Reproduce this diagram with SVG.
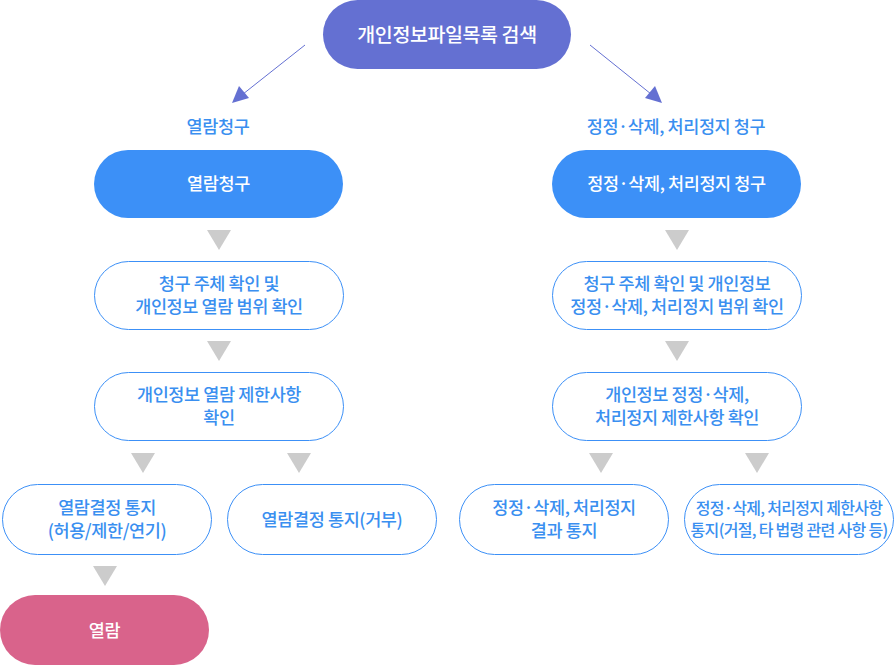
<svg xmlns="http://www.w3.org/2000/svg" width="895" height="665" viewBox="0 0 895 665">
<defs>
<style>
text{font-family:"Noto Sans CJK KR","Noto Sans",sans-serif;font-size:17.5px;text-anchor:middle;letter-spacing:-0.4px;font-weight:500}
.w{fill:#ffffff}
.b{fill:#3a8ff0}
.box{fill:#ffffff;stroke:#3c90f7;stroke-width:1}
.tri{fill:#cccccc}
</style>
</defs>
<rect width="895" height="665" fill="#ffffff"/>
<g id="connectors">
<line x1="305" y1="45" x2="238" y2="98" stroke="#6470d2" stroke-width="1"/>
<polygon points="232,103 239,86 249,98" fill="#6470d2"/>
<line x1="590" y1="45" x2="656" y2="98" stroke="#6470d2" stroke-width="1"/>
<polygon points="662,103 645,98 655,86" fill="#6470d2"/>
<polygon class="tri" points="207,230 231,230 219,250"/>
<polygon class="tri" points="665,230 689,230 677,250"/>
<polygon class="tri" points="207,341 231,341 219,361"/>
<polygon class="tri" points="665,341 689,341 677,361"/>
<polygon class="tri" points="131,453 155,453 143,473"/>
<polygon class="tri" points="287,453 311,453 299,473"/>
<polygon class="tri" points="589,453 613,453 601,473"/>
<polygon class="tri" points="745,453 769,453 757,473"/>
<polygon class="tri" points="93,566 117,566 105,586"/>
</g>
<g id="n-search">
<rect x="323" y="0" width="248" height="69" rx="34.5" fill="#6470d2"/>
<text class="w" x="447" y="42" style="font-size:19.5px">개인정보파일목록 검색</text>
</g>
<g id="lbl-left"><text class="b" x="218" y="133">열람청구</text></g>
<g id="lbl-right"><text class="b" x="676" y="133">정정·삭제, 처리정지 청구</text></g>
<g id="n-l1">
<rect x="94" y="150" width="249" height="68" rx="34" fill="#3c90f7"/>
<text class="w" x="218.5" y="190">열람청구</text>
</g>
<g id="n-r1">
<rect x="552" y="150" width="249" height="68" rx="34" fill="#3c90f7"/>
<text class="w" x="676.5" y="190">정정·삭제, 처리정지 청구</text>
</g>
<g id="n-l2">
<rect class="box" x="94.5" y="261.5" width="249" height="68" rx="34"/>
<text class="b" x="219" y="290">청구 주체 확인 및</text>
<text class="b" x="219" y="313">개인정보 열람 범위 확인</text>
</g>
<g id="n-r2">
<rect class="box" x="552.5" y="261.5" width="249" height="68" rx="34"/>
<text class="b" x="677" y="290">청구 주체 확인 및 개인정보</text>
<text class="b" x="677" y="313">정정·삭제, 처리정지 범위 확인</text>
</g>
<g id="n-l3">
<rect class="box" x="94.5" y="372.5" width="249" height="68" rx="34"/>
<text class="b" x="219" y="401">개인정보 열람 제한사항</text>
<text class="b" x="219" y="424">확인</text>
</g>
<g id="n-r3">
<rect class="box" x="552.5" y="372.5" width="249" height="68" rx="34"/>
<text class="b" x="677" y="401">개인정보 정정·삭제,</text>
<text class="b" x="677" y="424">처리정지 제한사항 확인</text>
</g>
<g id="n-l4a">
<rect class="box" x="2.5" y="484.5" width="209" height="70" rx="35"/>
<text class="b" x="107" y="514">열람결정 통지</text>
<text class="b" x="107" y="537">(허용/제한/연기)</text>
</g>
<g id="n-l4b">
<rect class="box" x="227.5" y="484.5" width="209" height="70" rx="35"/>
<text class="b" x="332" y="526">열람결정 통지(거부)</text>
</g>
<g id="n-r4a">
<rect class="box" x="459.5" y="484.5" width="209" height="70" rx="35"/>
<text class="b" x="564" y="514">정정·삭제, 처리정지</text>
<text class="b" x="564" y="537">결과 통지</text>
</g>
<g id="n-r4b">
<rect class="box" x="684.5" y="484.5" width="209" height="70" rx="35"/>
<text class="b" x="789" y="514" style="font-size:16px;letter-spacing:-0.7px">정정·삭제, 처리정지 제한사항</text>
<text class="b" x="789" y="536" style="font-size:16px;letter-spacing:-0.7px">통지(거절, 타 법령 관련 사항 등)</text>
</g>
<g id="n-view">
<rect x="0" y="595" width="209" height="70" rx="35" fill="#d9638b"/>
<text class="w" x="104.5" y="637">열람</text>
</g>
</svg>
